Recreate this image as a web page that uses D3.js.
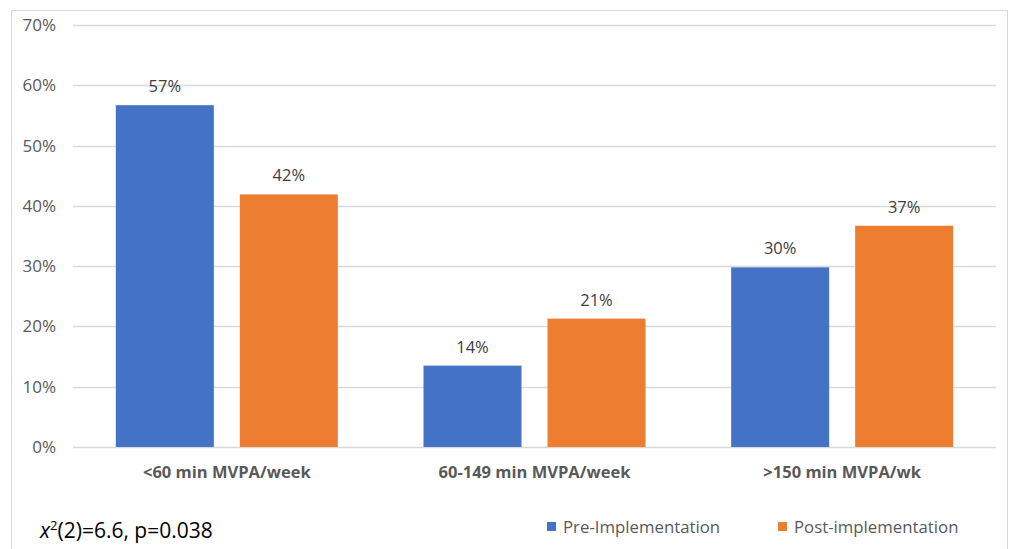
<!DOCTYPE html>
<html lang="en">
<head>
<meta charset="UTF-8">
<title>MVPA chart</title>
<script src="https://cdn.jsdelivr.net/npm/d3@7"></script>
<style>
  body { margin: 0; background: #fff; }
  svg { display: block; }
</style>
</head>
<body>
<svg id="chart" width="1010" height="549"></svg>
<script>
// Data
const categories = ["<60 min MVPA/week", "60-149 min MVPA/week", ">150 min MVPA/wk"];
const seriesNames = ["Pre-Implementation", "Post-implementation"];
const preValues = [56.7, 13.5, 29.8];
const postValues = [41.9, 21.3, 36.7];
const yTicks = [0, 10, 20, 30, 40, 50, 60, 70];
const colors = ["#4472C4", "#ED7D31"];

const svg = d3.select("#chart");
const font = "'Open Sans', 'Noto Sans', sans-serif";

// frame
svg.append("rect")
  .attr("x", 11.5).attr("y", 10.5)
  .attr("width", 996).attr("height", 560)
  .attr("fill", "none").attr("stroke", "#d9d9d9");

const plotLeft = 73, plotRight = 996, plotTop = 25, plotBottom = 447;

const x = d3.scaleBand().domain(categories).range([plotLeft, plotRight]).paddingInner(0).paddingOuter(0);
const y = d3.scaleLinear().domain([0, 70]).range([plotBottom, plotTop]);

// gridlines
svg.append("g").selectAll("line")
  .data(yTicks).enter().append("line")
  .attr("x1", plotLeft).attr("x2", plotRight)
  .attr("y1", d => Math.round(y(d)) + 0.5).attr("y2", d => Math.round(y(d)) + 0.5)
  .attr("stroke", "#d9d9d9").attr("stroke-width", 1.3);

// y tick labels
svg.append("g").selectAll("text")
  .data(yTicks).enter().append("text")
  .attr("x", 56).attr("y", d => y(d) + 6)
  .attr("text-anchor", "end")
  .attr("font-family", font).attr("font-size", 17)
  .attr("fill", "#595959")
  .text(d => d + "%");

// bars
const barW = 98, gap = 26;
const rows = categories.map((c, i) => ({ cat: c, vals: [preValues[i], postValues[i]] }));
const groups = svg.append("g").selectAll("g")
  .data(rows).enter().append("g")
  .attr("transform", d => "translate(" + (x(d.cat) + x.bandwidth() / 2) + ",0)");

groups.selectAll("rect")
  .data(d => d.vals.map((v, j) => ({ v, j }))).enter().append("rect")
  .attr("x", d => d.j === 0 ? -gap / 2 - barW : gap / 2)
  .attr("width", barW)
  .attr("y", d => y(d.v))
  .attr("height", d => y(0) - y(d.v))
  .attr("fill", d => colors[d.j]);

groups.selectAll("text.val")
  .data(d => d.vals.map((v, j) => ({ v, j }))).enter().append("text")
  .attr("class", "val")
  .attr("x", d => d.j === 0 ? -gap / 2 - barW / 2 : gap / 2 + barW / 2)
  .attr("y", d => y(d.v) - 13)
  .attr("text-anchor", "middle")
  .attr("font-family", font).attr("font-size", 16.5)
  .attr("fill", "#404040")
  .text(d => Math.round(d.v) + "%");

// category labels
svg.append("g").selectAll("text")
  .data(categories).enter().append("text")
  .attr("x", d => x(d) + x.bandwidth() / 2)
  .attr("y", 478)
  .attr("text-anchor", "middle")
  .attr("font-family", font).attr("font-size", 16.5).attr("font-weight", "bold")
  .attr("fill", "#595959")
  .text(d => d);

// chi-square note
const note = svg.append("text")
  .attr("x", 40).attr("y", 538)
  .attr("font-family", font).attr("font-size", 21)
  .attr("fill", "#000");
note.append("tspan").attr("font-style", "italic").text("x");
note.append("tspan").attr("font-size", 13).attr("dy", -8).text("2");
note.append("tspan").attr("dy", 8).text("(2)=6.6, p=0.038");

// legend
const legendX = [547, 778];
const legend = svg.append("g").selectAll("g")
  .data(seriesNames).enter().append("g")
  .attr("transform", (d, i) => "translate(" + legendX[i] + ",522)");
legend.append("rect").attr("width", 9).attr("height", 9).attr("fill", (d, i) => colors[i]);
legend.append("text")
  .attr("x", 16).attr("y", 11)
  .attr("font-family", font).attr("font-size", 16.8)
  .attr("fill", "#595959")
  .text(d => d);
</script>
</body>
</html>
